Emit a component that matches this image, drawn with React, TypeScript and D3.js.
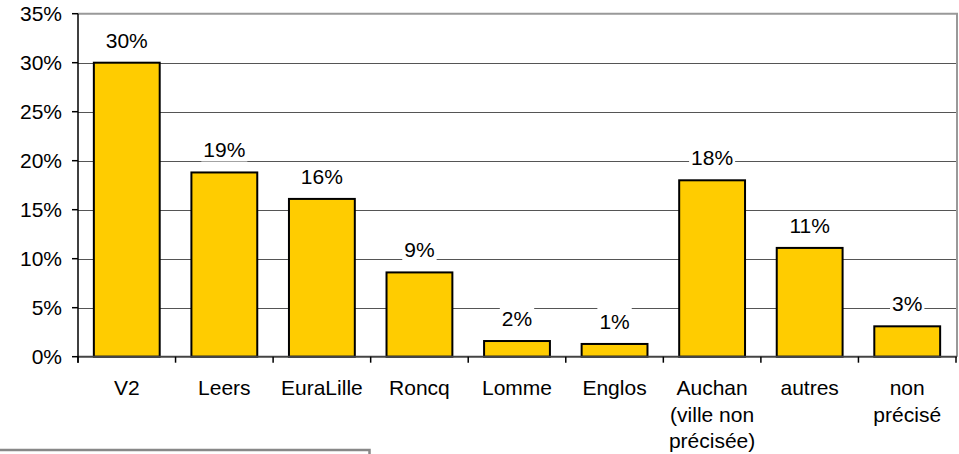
import React, { useEffect, useRef } from "react";
import * as d3 from "d3";

const categories: string[][] = [
  ["V2"],
  ["Leers"],
  ["EuraLille"],
  ["Roncq"],
  ["Lomme"],
  ["Englos"],
  ["Auchan", "(ville non", "précisée)"],
  ["autres"],
  ["non", "précisé"],
];
const values: number[] = [30.0, 18.8, 16.1, 8.6, 1.6, 1.3, 18.0, 11.1, 3.1];
const yTicks: number[] = [0, 5, 10, 15, 20, 25, 30, 35];

const W = 959;
const H = 454;
const FONT = "'Liberation Sans', Arial, sans-serif";
const FS = 21;

export default function App() {
  const ref = useRef<SVGSVGElement | null>(null);

  useEffect(() => {
    const svg = d3.select(ref.current);
    svg.selectAll("*").remove();

    const left = 78;
    const right = 956;
    const top = 13.7;
    const bottom = 356.7;

    const keys = categories.map((c) => c.join(" "));
    const p = 0.325;
    const x = d3.scaleBand<string>().domain(keys).range([left, right]).paddingInner(p).paddingOuter(p / 2);
    const y = d3.scaleLinear().domain([0, 35]).range([bottom, top]);

    svg.append("rect").attr("x", 0).attr("y", 0).attr("width", W).attr("height", H).attr("fill", "#fff");

    // gridlines
    svg
      .append("g")
      .selectAll("line")
      .data(yTicks.filter((t) => t > 0 && t < 35))
      .join("line")
      .attr("x1", left)
      .attr("x2", right)
      .attr("y1", (d) => Math.round(y(d)) + 0.5)
      .attr("y2", (d) => Math.round(y(d)) + 0.5)
      .attr("stroke", "#555")
      .attr("stroke-width", 1);

    // plot border top & right
    svg
      .append("path")
      .attr("d", `M${left},${top} L${right + 1},${top} L${right + 1},${bottom}`)
      .attr("fill", "none")
      .attr("stroke", "#999")
      .attr("stroke-width", 2);

    // bars
    svg
      .append("g")
      .selectAll("rect")
      .data(values)
      .join("rect")
      .attr("x", (_, i) => x(keys[i])!)
      .attr("y", (d) => y(d))
      .attr("width", x.bandwidth())
      .attr("height", (d) => bottom - y(d))
      .attr("fill", "#FFCC00")
      .attr("stroke", "#000")
      .attr("stroke-width", 2);

    // x axis line
    svg
      .append("line")
      .attr("x1", left)
      .attr("x2", right + 1)
      .attr("y1", bottom)
      .attr("y2", bottom)
      .attr("stroke", "#444")
      .attr("stroke-width", 2);

    // x ticks at category boundaries
    const step = x.step();
    const bounds = d3.range(categories.length + 1).map((i) => left + i * step);
    svg
      .append("g")
      .selectAll("line")
      .data(bounds)
      .join("line")
      .attr("x1", (d) => d)
      .attr("x2", (d) => d)
      .attr("y1", bottom)
      .attr("y2", bottom + 6)
      .attr("stroke", "#000")
      .attr("stroke-width", 1.5);

    // y axis
    svg
      .append("line")
      .attr("x1", left)
      .attr("x2", left)
      .attr("y1", top)
      .attr("y2", bottom + 6)
      .attr("stroke", "#000")
      .attr("stroke-width", 1.5);

    const yg = svg.append("g");
    yg.selectAll("line")
      .data(yTicks)
      .join("line")
      .attr("x1", left - 6)
      .attr("x2", left)
      .attr("y1", (d) => y(d))
      .attr("y2", (d) => y(d))
      .attr("stroke", "#000")
      .attr("stroke-width", 1.5);
    yg.selectAll("text")
      .data(yTicks)
      .join("text")
      .attr("x", 62)
      .attr("y", (d) => y(d))
      .attr("dy", "0.35em")
      .attr("text-anchor", "end")
      .attr("font-family", FONT)
      .attr("font-size", FS)
      .attr("fill", "#000")
      .text((d) => `${d}%`);

    // category labels
    const xg = svg.append("g");
    categories.forEach((lines, i) => {
      const cx = x(keys[i])! + x.bandwidth() / 2;
      const t = xg
        .append("text")
        .attr("text-anchor", "middle")
        .attr("font-family", FONT)
        .attr("font-size", FS)
        .attr("fill", "#000");
      lines.forEach((ln, j) => {
        t.append("tspan").attr("x", cx).attr("y", 395 + j * 26.5).text(ln);
      });
    });

    // value labels with white background
    const lg = svg.append("g");
    values.forEach((v, i) => {
      const cx = x(keys[i])! + x.bandwidth() / 2;
      const base = y(v) - 15;
      const g = lg.append("g");
      const bg = g.append("rect").attr("fill", "#fff");
      const t = g
        .append("text")
        .attr("x", cx)
        .attr("y", base)
        .attr("text-anchor", "middle")
        .attr("font-family", FONT)
        .attr("font-size", FS)
        .attr("fill", "#000")
        .text(`${Math.round(v)}%`);
      const w = (t.node() as SVGTextElement).getComputedTextLength();
      bg.attr("x", cx - w / 2 - 2)
        .attr("y", base - FS * 0.72 - 6)
        .attr("width", w + 4)
        .attr("height", FS * 0.72 + 10);
    });

    // legend box remnant at bottom-left
    svg
      .append("rect")
      .attr("x", -10)
      .attr("y", 450)
      .attr("width", 379.5)
      .attr("height", 30)
      .attr("fill", "#fff")
      .attr("stroke", "#888")
      .attr("stroke-width", 2.5);
  }, []);

  return (
    <svg
      ref={ref}
      width={W}
      height={H}
      style={{ position: "absolute", left: 0, top: 0, display: "block" }}
    />
  );
}
